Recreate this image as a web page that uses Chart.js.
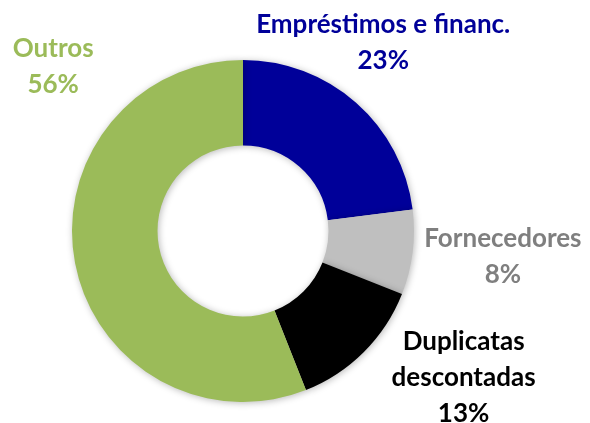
<!DOCTYPE html>
<html><head><meta charset="utf-8">
<script src="https://cdn.jsdelivr.net/npm/chart.js@4"></script>
<style>html,body{margin:0;padding:0;background:#fff}#wrap{width:590px;height:423px}</style>
</head><body><div id="wrap"><canvas id="c" width="590" height="423"></canvas></div>
<script>
const categories = ["Empréstimos e financ.", "Fornecedores", "Duplicatas descontadas", "Outros"];
const values = [23, 8, 13, 56];
const labelLines = [["Empréstimos e financ.", "23%"], ["Fornecedores", "8%"], ["Duplicatas", "descontadas", "13%"], ["Outros", "56%"]];
const sliceColors = ["#000099", "#BFBFBF", "#000000", "#9BBB59"];
const textColors = ["#000099", "#7F7F7F", "#000000", "#9BBB59"];
// label anchor offsets relative to chart centre, in units of outer radius
const labelOffsets = [[0.82, -1.10], [1.52, 0.15], [1.29, 0.86], [-1.11, -0.96]];

const shadowPlugin = {
  id: 'shadow',
  beforeDatasetsDraw(chart) {
    const ctx = chart.ctx; ctx.save();
    ctx.shadowColor = 'rgba(0,0,0,0.28)'; ctx.shadowBlur = 7; ctx.shadowOffsetX = 1; ctx.shadowOffsetY = 1;
  },
  afterDatasetsDraw(chart) { chart.ctx.restore(); }
};
const labelPlugin = {
  id: 'labels',
  afterDraw(chart) {
    const ctx = chart.ctx;
    const meta = chart.getDatasetMeta(0);
    const arc0 = meta.data[0];
    const cx = arc0.x, cy = arc0.y, r = arc0.outerRadius;
    ctx.save();
    ctx.font = 'bold 26px Lato';
    ctx.textAlign = 'center'; ctx.textBaseline = 'middle';
    const lh = 36;
    labelLines.forEach((lines, i) => {
      ctx.fillStyle = textColors[i];
      const x = cx + labelOffsets[i][0] * r;
      const y0 = cy + labelOffsets[i][1] * r - (lines.length - 1) * lh / 2;
      lines.forEach((t, j) => ctx.fillText(t, x, y0 + j * lh));
    });
    ctx.restore();
  }
};
new Chart(document.getElementById('c'), {
  type: 'doughnut',
  data: { labels: categories, datasets: [{ data: values, backgroundColor: sliceColors, borderWidth: 0 }] },
  options: {
    responsive: false, animation: false, cutout: '50%',
    layout: { padding: { left: 0, right: 104, top: 60, bottom: 21 } },
    plugins: { legend: { display: false }, tooltip: { enabled: false } }
  },
  plugins: [shadowPlugin, labelPlugin]
});
</script></body></html>
